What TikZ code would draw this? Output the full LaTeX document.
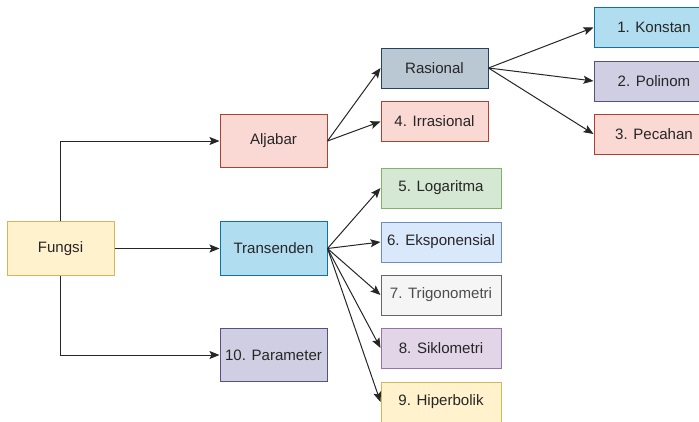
\documentclass[tikz,border=0pt]{standalone}
\usepackage{fontspec}
\setmainfont{Liberation Sans}
\usetikzlibrary{arrows.meta}
\definecolor{YelFill}{HTML}{FFF2CC}
\definecolor{YelLine}{HTML}{D6B656}
\definecolor{RedFill}{HTML}{FAD9D5}
\definecolor{RedLine}{HTML}{AE4132}
\definecolor{CyanFill}{HTML}{B1DDF0}
\definecolor{CyanLine}{HTML}{10739E}
\definecolor{PurFill}{HTML}{D0CEE2}
\definecolor{PurLine}{HTML}{56517E}
\definecolor{GreyFill}{HTML}{BAC8D3}
\definecolor{GreyLine}{HTML}{23445D}
\definecolor{GrnFill}{HTML}{D5E8D4}
\definecolor{GrnLine}{HTML}{82B366}
\definecolor{BluFill}{HTML}{DAE8FC}
\definecolor{BluLine}{HTML}{6C8EBF}
\definecolor{WhtFill}{HTML}{F5F5F5}
\definecolor{WhtLine}{HTML}{666666}
\definecolor{VioFill}{HTML}{E1D5E7}
\definecolor{VioLine}{HTML}{9673A6}

\begin{document}
\begin{tikzpicture}[x=0.75pt,y=-0.75pt,
    box/.style={draw, rectangle, line width=0.75pt, inner sep=0pt, text=black!85,
        font=\fontsize{11.3}{13}\selectfont, minimum width=80.25pt, minimum height=40pt},
    smallbox/.style={box, minimum height=30pt},
    widebox/.style={box, minimum width=90pt, minimum height=30pt},
    arrow/.style={draw, line width=0.75pt, black!85, -{Stealth[length=7.5pt,width=6pt,inset=1.5pt]}}]
        \useasboundingbox (0,0) rectangle (699,421);

        \node[box, fill=YelFill, draw=YelLine] (fungsi) at (60.5,248.5) {Fungsi};
        \node[box, fill=RedFill, draw=RedLine] (aljabar) at (273.5,141) {Aljabar};
        \node[box, fill=CyanFill, draw=CyanLine] (transenden) at (273.5,248.5) {Transenden};
        \node[box, fill=PurFill, draw=PurLine] (parameter) at (273.5,355) {10. Parameter};

        \node[smallbox, fill=GreyFill, draw=GreyLine] (rasional) at (434.5,68) {Rasional};
        \node[smallbox, fill=RedFill, draw=RedLine] (irrasional) at (434.5,121.5) {4. Irrasional};

        \node[widebox, fill=GrnFill, draw=GrnLine] (logaritma) at (441,188) {5. Logaritma};
        \node[widebox, fill=BluFill, draw=BluLine] (eksponensial) at (441,242) {6. Eksponensial};
        \node[widebox, fill=WhtFill, draw=WhtLine, text=black!70] (trigonometri) at (441,295) {7. Trigonometri};
        \node[widebox, fill=VioFill, draw=VioLine] (siklometri) at (441,348) {8. Siklometri};
        \node[widebox, fill=YelFill, draw=YelLine] (hiperbolik) at (441,402) {9. Hiperbolik};

        \node[widebox, fill=CyanFill, draw=CyanLine] (konstan) at (654,27.5) {1. Konstan};
        \node[widebox, fill=PurFill, draw=PurLine] (polinom) at (654,81) {2. Polinom};
        \node[widebox, fill=RedFill, draw=RedLine] (pecahan) at (654,134) {3. Pecahan};

        \draw[arrow] (fungsi.north) |- (aljabar.west);
        \draw[arrow] (fungsi.east) -- (transenden.west);
        \draw[arrow] (fungsi.south) |- (parameter.west);

        \draw[arrow] (aljabar.east) -- (rasional.west);
        \draw[arrow] (aljabar.east) -- (irrasional.west);

        \draw[arrow] (rasional.east) -- (konstan.west);
        \draw[arrow] (rasional.east) -- (polinom.west);
        \draw[arrow] (rasional.east) -- (pecahan.west);

        \foreach \n in {logaritma,eksponensial,trigonometri,siklometri,hiperbolik}
            \draw[arrow] (transenden.east) -- (\n.west);

    \end{tikzpicture}
\end{document}
